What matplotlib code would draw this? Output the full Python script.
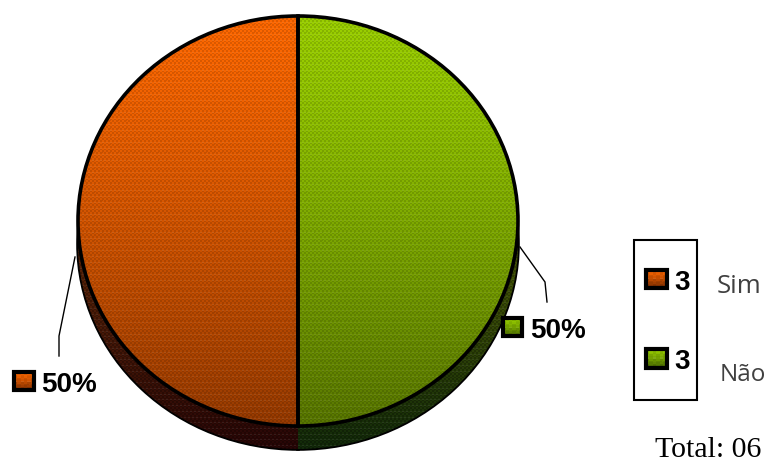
import numpy as np
import matplotlib
matplotlib.use('Agg')
import matplotlib.pyplot as plt
from matplotlib.patches import Rectangle

# Data
categories = ['Sim', 'Não']
values = [3, 3]

W, H = 767, 464
# pie ellipse in pixels
cx, cy, rx, ry = 298, 222, 220, 205
depth = 23


def dither(top, bottom, nrows, ncols, amount=0.10):
    # vertical gradient with a checker pattern, like the old 256 colour charts
    top = np.array(top, dtype=float)
    bottom = np.array(bottom, dtype=float)
    t = np.linspace(0, 1, nrows)[:, None, None] ** 1.25
    img = top + (bottom - top) * t
    img = np.repeat(img, ncols, axis=1)
    jj, ii = np.meshgrid(np.arange(ncols), np.arange(nrows))
    check = ((ii // 2 + jj // 2) % 2)[:, :, None]
    dots = ((ii % 8 == 0) & (jj % 8 == 0))[:, :, None]
    stripe = (ii % 6 == 0)[:, :, None]
    img = img * (1 - amount * check) * (1 - 0.12 * dots) + 22 * stripe * check
    return np.clip(img, 0, 255).astype(np.uint8)


fig = plt.figure(figsize=(W / 100, H / 100), dpi=100, facecolor='white')

# pie axes covers whole figure, 1 data unit = radius
ax = fig.add_axes([0, 0, 1, 1])
lims_x = ((0 - cx) / rx, (W - cx) / rx)
lims_y = ((cy - H) / ry, (cy - 0) / ry)

# side of the pie (lowered copy)
dy = -depth / ry
side, _ = ax.pie(values, startangle=90, center=(0, dy), radius=1, colors=['#3a0f08', '#1e3a08'],
                 wedgeprops={'edgecolor': 'black', 'linewidth': 2.6})
side_imgs = [dither((130, 60, 10), (40, 6, 6), 430, 220, 0.25),
             dither((110, 120, 0), (18, 42, 10), 430, 220, 0.25)]
for w, img, ext in zip(side, side_imgs, [(-1, 0, dy - 1, dy + 1), (0, 1, dy - 1, dy + 1)]):
    im = ax.imshow(img, extent=ext, aspect='auto', interpolation='nearest', zorder=1.5)
    im.set_clip_path(w)

# top face
faces, _ = ax.pie(values, startangle=90, radius=1, colors=['#ff6600', '#99cc00'],
                  wedgeprops={'edgecolor': 'none'})
for w in faces:
    w.set_zorder(2)
orange = dither((255, 104, 0), (150, 58, 0), 410, 220, 0.13)
green = dither((155, 208, 0), (88, 118, 0), 410, 220, 0.13)
for w, img, ext in zip(faces, [orange, green], [(-1, 0, -1, 1), (0, 1, -1, 1)]):
    im = ax.imshow(img, extent=ext, aspect='auto', interpolation='nearest', zorder=2.5)
    im.set_clip_path(w)

# black outline over the images
outline, _ = ax.pie(values, startangle=90, radius=1, colors=['none', 'none'],
                    wedgeprops={'edgecolor': 'black', 'linewidth': 2.6})
for w in outline:
    w.set_zorder(3)

ax.set_aspect('auto')
ax.set_xlim(*lims_x)
ax.set_ylim(*lims_y)
ax.axis('off')

# overlay in pixel coordinates for labels and the legend
ov = fig.add_axes([0, 0, 1, 1], facecolor='none')
ov.axis('off')


def key(x0, y0, size_x, size_y, top, bottom):
    img = dither(top, bottom, 12, 12, 0.08)
    ov.imshow(img, extent=(x0, x0 + size_x, y0 + size_y, y0), aspect='auto',
              interpolation='nearest', zorder=4)
    ov.add_patch(Rectangle((x0, y0), size_x, size_y, fill=False, edgecolor='black',
                           linewidth=3, zorder=5))


total = sum(values)
label_font = {'family': 'Liberation Sans', 'fontweight': 'bold', 'fontsize': 20, 'color': 'black'}

# leader lines
ov.plot([75, 59, 59], [258, 337, 357], color='black', lw=1, zorder=4)
ov.plot([520, 545, 547], [248, 283, 303], color='black', lw=1, zorder=4)

# data labels
key(14, 373, 20, 18, (255, 104, 0), (135, 50, 0))
ov.text(41, 382, f'{values[0] / total:.0%}', va='center_baseline', ha='left', **label_font)
key(503, 319, 19, 18, (152, 206, 0), (78, 112, 0))
ov.text(530, 328, f'{values[1] / total:.0%}', va='center_baseline', ha='left', **label_font)

# legend box
ov.add_patch(Rectangle((634, 241), 63, 160, fill=False, edgecolor='black', linewidth=1.5, zorder=4))
key(645.5, 270.5, 21, 18, (255, 104, 0), (135, 50, 0))
key(645.5, 349.5, 21, 19, (152, 206, 0), (78, 112, 0))
ov.text(674, 280, str(values[0]), va='center_baseline', ha='left', **label_font)
ov.text(674, 359, str(values[1]), va='center_baseline', ha='left', **label_font)

ov.text(717, 284, categories[0], family='Open Sans', fontsize=18.5, color='#404040',
        va='center_baseline', ha='left')
ov.text(720, 372, categories[1], family='Open Sans', fontsize=17.5, color='#404040',
        va='center_baseline', ha='left')
ov.text(655, 457, f'Total: {total:02d}', family='Liberation Serif', fontsize=21.5,
        color='black', va='baseline', ha='left')

ov.set_xlim(0, W)
ov.set_ylim(H, 0)

fig.savefig('out.png', dpi=100)
